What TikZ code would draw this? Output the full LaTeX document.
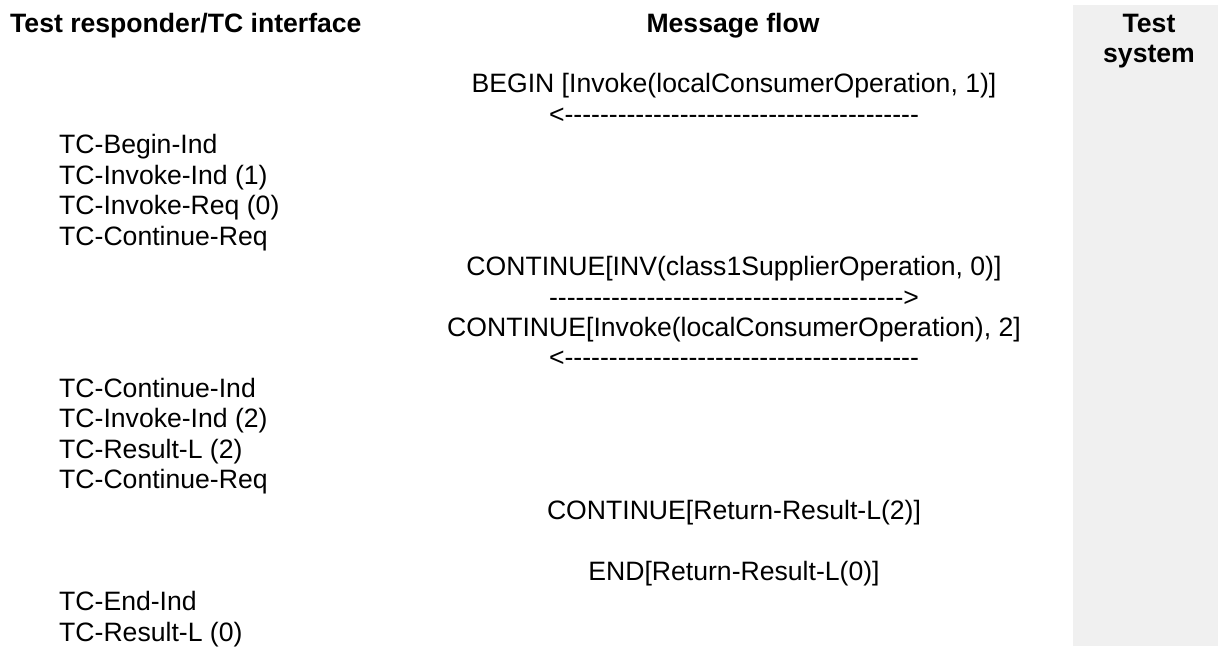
\documentclass[tikz,border=0pt]{standalone}
\usepackage{fontspec}
\setmainfont{Liberation Sans}
\usepackage{tikz}
\usetikzlibrary{positioning}
\definecolor{panelgrey}{HTML}{F0F0F0}
\newcommand{\diagfont}{\fontsize{26.6}{30.45}\selectfont}
\tikzstyle{head} = [font=\diagfont\bfseries, inner sep=0pt, anchor=base]
\tikzstyle{prim} = [inner sep=0pt, anchor=base west]
\tikzstyle{msg} = [inner sep=0pt, anchor=base]
\newcommand{\hyrun}{\foreach \i in {1,...,40}{\hbox{-}}}

\begin{document}
\begin{tikzpicture}[x=1pt, y=-1pt, font=\diagfont]
\useasboundingbox (0,0) rectangle (1218,646);
\fill[panelgrey] (1073,5) rectangle (1218,646);
% Headers
	\node [head, anchor=base west] (hdrTR) at (10,32) {Test responder/TC interface};
	\node [head] (hdrMF) at (733,32) {Message flow};
	\node [head, align=center] (hdrTS) at (1149,62.45) {Test\\system};

% Messages
	\node [msg] (begin)      at (734,92.9)  {BEGIN [Invoke(localConsumerOperation, 1)]};
	\node [msg] (beginArr)   at (734,123.35) {<\hyrun};
	\node [msg] (contInv)    at (734,275.6) {CONTINUE[INV(class1SupplierOperation, 0)]};
	\node [msg] (contInvArr) at (734,306.05) {\hyrun>};
	\node [msg] (contLoc)    at (734,336.5) {CONTINUE[Invoke(localConsumerOperation), 2]};
	\node [msg] (contLocArr) at (734,366.95) {<\hyrun};
	\node [msg] (contRes)    at (734,519.2) {CONTINUE[Return-Result-L(2)]};
	\node [msg] (endRes)     at (734,580.1) {END[Return-Result-L(0)]};

% Primitives
	\node [prim] (beginInd)  at (59,153.8)  {TC-Begin-Ind};
	\node [prim] (invInd1)   at (59,184.25) {TC-Invoke-Ind (1)};
	\node [prim] (invReq0)   at (59,214.7)  {TC-Invoke-Req (0)};
	\node [prim] (contReq1)  at (59,245.15) {TC-Continue-Req};
	\node [prim] (contInd)   at (59,397.4)  {TC-Continue-Ind};
	\node [prim] (invInd2)   at (59,427.85) {TC-Invoke-Ind (2)};
	\node [prim] (resL2)     at (59,458.3)  {TC-Result-L (2)};
	\node [prim] (contReq2)  at (59,488.75) {TC-Continue-Req};
	\node [prim] (endInd)    at (59,610.55) {TC-End-Ind};
	\node [prim] (resL0)     at (59,641)    {TC-Result-L (0)};
\end{tikzpicture}
\end{document}
